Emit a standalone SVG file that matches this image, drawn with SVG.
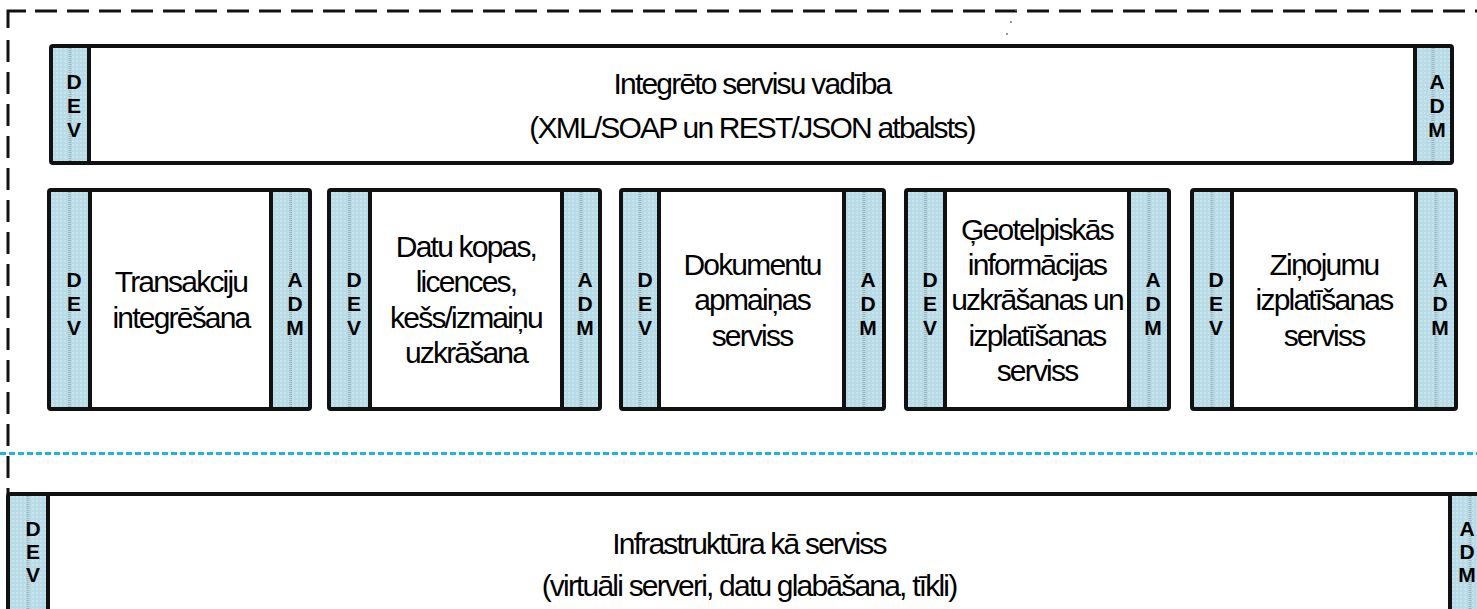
<svg xmlns="http://www.w3.org/2000/svg" width="1477" height="609" viewBox="0 0 1477 609">
<defs>
<pattern id="tex" width="4" height="4" patternUnits="userSpaceOnUse">
<rect width="4" height="4" fill="#B8DBE6"/>
<rect width="2" height="2" fill="#C6E4ED"/>
</pattern>
</defs>
<style>
.bg{fill:#fff;stroke:none}
.bar{fill:url(#tex);stroke:none}
.mid{stroke:#97B3BC;stroke-width:3;stroke-dasharray:1 1;fill:none}
.out{fill:none;stroke:#111;stroke-width:4}
.sep{stroke:#111;stroke-width:4}
.lbl{font-family:"Liberation Sans",Arial,sans-serif;font-size:30px;letter-spacing:-1.8px;text-anchor:middle;fill:#000}
.tag{font-family:"Liberation Sans",Arial,sans-serif;font-weight:bold;font-size:21px;text-anchor:middle;fill:#000}
.dash{fill:none;stroke:#111;stroke-width:3;stroke-dasharray:22 10}
.blue{fill:none;stroke:#1FB4E8;stroke-width:3;stroke-dasharray:6 3}
</style>
<rect width="1477" height="609" fill="#fff"/>

<g id="boundaries">
<path d="M8,28 V11 H26" fill="none" stroke="#111" stroke-width="3"/>
<path class="dash" d="M35,11 H1490"/>
<path class="dash" d="M8,40 V494"/>
<path class="blue" d="M0,453.5 H1477"/>
<circle cx="1016" cy="10" r="1" fill="#777"/>
<circle cx="1011" cy="22" r="1" fill="#777"/>
<circle cx="1007" cy="34" r="1" fill="#777"/>
</g>

<g id="integrated-services">
<rect class="bg" x="51" y="46" width="1401" height="117"/>
<rect class="bar" x="51" y="46" width="38" height="117"/>
<rect class="bar" x="1415" y="46" width="37" height="117"/>
<line class="mid" x1="70" y1="48" x2="70" y2="161"/>
<line class="mid" x1="1433" y1="48" x2="1433" y2="161"/>
<rect class="out" x="51" y="46" width="1401" height="117" rx="2"/>
<line class="sep" x1="89" y1="46" x2="89" y2="163"/>
<line class="sep" x1="1415" y1="46" x2="1415" y2="163"/>
<text class="tag"><tspan x="74" y="89">D</tspan><tspan x="74" y="113">E</tspan><tspan x="74" y="137">V</tspan></text>
<text class="tag"><tspan x="1437" y="89">A</tspan><tspan x="1437" y="113">D</tspan><tspan x="1437" y="137">M</tspan></text>
<text class="lbl"><tspan x="752" y="94">Integrēto servisu vadība</tspan><tspan x="752" y="138">(XML/SOAP un REST/JSON atbalsts)</tspan></text>
</g>

<g id="transactions">
<rect class="bg" x="49" y="190" width="261" height="219"/>
<rect class="bar" x="49" y="190" width="41" height="219"/>
<rect class="bar" x="271" y="190" width="39" height="219"/>
<line class="mid" x1="69.5" y1="192" x2="69.5" y2="407"/>
<line class="mid" x1="290.5" y1="192" x2="290.5" y2="407"/>
<rect class="out" x="49" y="190" width="261" height="219" rx="2"/>
<line class="sep" x1="90" y1="190" x2="90" y2="409"/>
<line class="sep" x1="271" y1="190" x2="271" y2="409"/>
<text class="tag"><tspan x="74" y="287">D</tspan><tspan x="74" y="311">E</tspan><tspan x="74" y="335">V</tspan></text>
<text class="tag"><tspan x="295" y="287">A</tspan><tspan x="295" y="311">D</tspan><tspan x="295" y="335">M</tspan></text>
<text class="lbl"><tspan x="181" y="292">Transakciju</tspan><tspan x="181" y="328">integrēšana</tspan></text>
</g>

<g id="datasets">
<rect class="bg" x="329" y="190" width="271" height="219"/>
<rect class="bar" x="329" y="190" width="41" height="219"/>
<rect class="bar" x="562" y="190" width="38" height="219"/>
<line class="mid" x1="349.5" y1="192" x2="349.5" y2="407"/>
<line class="mid" x1="581" y1="192" x2="581" y2="407"/>
<rect class="out" x="329" y="190" width="271" height="219" rx="2"/>
<line class="sep" x1="370" y1="190" x2="370" y2="409"/>
<line class="sep" x1="562" y1="190" x2="562" y2="409"/>
<text class="tag"><tspan x="354" y="287">D</tspan><tspan x="354" y="311">E</tspan><tspan x="354" y="335">V</tspan></text>
<text class="tag"><tspan x="585" y="287">A</tspan><tspan x="585" y="311">D</tspan><tspan x="585" y="335">M</tspan></text>
<text class="lbl"><tspan x="466" y="257">Datu kopas,</tspan><tspan x="466" y="292">licences,</tspan><tspan x="466" y="328">kešs/izmaiņu</tspan><tspan x="466" y="363">uzkrāšana</tspan></text>
</g>

<g id="documents">
<rect class="bg" x="621" y="190" width="263" height="219"/>
<rect class="bar" x="621" y="190" width="38" height="219"/>
<rect class="bar" x="844" y="190" width="40" height="219"/>
<line class="mid" x1="640" y1="192" x2="640" y2="407"/>
<line class="mid" x1="864" y1="192" x2="864" y2="407"/>
<rect class="out" x="621" y="190" width="263" height="219" rx="2"/>
<line class="sep" x1="659" y1="190" x2="659" y2="409"/>
<line class="sep" x1="844" y1="190" x2="844" y2="409"/>
<text class="tag"><tspan x="645" y="287">D</tspan><tspan x="645" y="311">E</tspan><tspan x="645" y="335">V</tspan></text>
<text class="tag"><tspan x="868" y="287">A</tspan><tspan x="868" y="311">D</tspan><tspan x="868" y="335">M</tspan></text>
<text class="lbl"><tspan x="752" y="275">Dokumentu</tspan><tspan x="752" y="310">apmaiņas</tspan><tspan x="752" y="346">serviss</tspan></text>
</g>

<g id="geospatial">
<rect class="bg" x="906" y="190" width="263" height="219"/>
<rect class="bar" x="906" y="190" width="39" height="219"/>
<rect class="bar" x="1129" y="190" width="40" height="219"/>
<line class="mid" x1="925.5" y1="192" x2="925.5" y2="407"/>
<line class="mid" x1="1149" y1="192" x2="1149" y2="407"/>
<rect class="out" x="906" y="190" width="263" height="219" rx="2"/>
<line class="sep" x1="945" y1="190" x2="945" y2="409"/>
<line class="sep" x1="1129" y1="190" x2="1129" y2="409"/>
<text class="tag"><tspan x="930" y="287">D</tspan><tspan x="930" y="311">E</tspan><tspan x="930" y="335">V</tspan></text>
<text class="tag"><tspan x="1153" y="287">A</tspan><tspan x="1153" y="311">D</tspan><tspan x="1153" y="335">M</tspan></text>
<text class="lbl"><tspan x="1037" y="240">Ģeotelpiskās</tspan><tspan x="1037" y="275">informācijas</tspan><tspan x="1037" y="310">uzkrāšanas un</tspan><tspan x="1037" y="346">izplatīšanas</tspan><tspan x="1037" y="381">serviss</tspan></text>
</g>

<g id="messages">
<rect class="bg" x="1192" y="190" width="264" height="219"/>
<rect class="bar" x="1192" y="190" width="40" height="219"/>
<rect class="bar" x="1416" y="190" width="40" height="219"/>
<line class="mid" x1="1212" y1="192" x2="1212" y2="407"/>
<line class="mid" x1="1436" y1="192" x2="1436" y2="407"/>
<rect class="out" x="1192" y="190" width="264" height="219" rx="2"/>
<line class="sep" x1="1232" y1="190" x2="1232" y2="409"/>
<line class="sep" x1="1416" y1="190" x2="1416" y2="409"/>
<text class="tag"><tspan x="1216" y="287">D</tspan><tspan x="1216" y="311">E</tspan><tspan x="1216" y="335">V</tspan></text>
<text class="tag"><tspan x="1440" y="287">A</tspan><tspan x="1440" y="311">D</tspan><tspan x="1440" y="335">M</tspan></text>
<text class="lbl"><tspan x="1324" y="275">Ziņojumu</tspan><tspan x="1324" y="310">izplatīšanas</tspan><tspan x="1324" y="346">serviss</tspan></text>
</g>

<g id="infrastructure">
<rect class="bg" x="8" y="494" width="1490" height="130"/>
<rect class="bar" x="8" y="494" width="40" height="130"/>
<rect class="bar" x="1450" y="494" width="40" height="130"/>
<line class="mid" x1="28" y1="496" x2="28" y2="620"/>
<line class="mid" x1="1470" y1="496" x2="1470" y2="620"/>
<rect class="out" x="8" y="494" width="1490" height="130" rx="2"/>
<line class="sep" x1="48" y1="494" x2="48" y2="620"/>
<line class="sep" x1="1450" y1="494" x2="1450" y2="620"/>
<text class="tag"><tspan x="33" y="536">D</tspan><tspan x="33" y="559">E</tspan><tspan x="33" y="582">V</tspan></text>
<text class="tag"><tspan x="1467" y="536">A</tspan><tspan x="1467" y="559">D</tspan><tspan x="1467" y="582">M</tspan></text>
<text class="lbl"><tspan x="749" y="554">Infrastruktūra kā serviss</tspan><tspan x="749" y="596">(virtuāli serveri, datu glabāšana, tīkli)</tspan></text>
</g>

<g id="connectors"></g>
</svg>
